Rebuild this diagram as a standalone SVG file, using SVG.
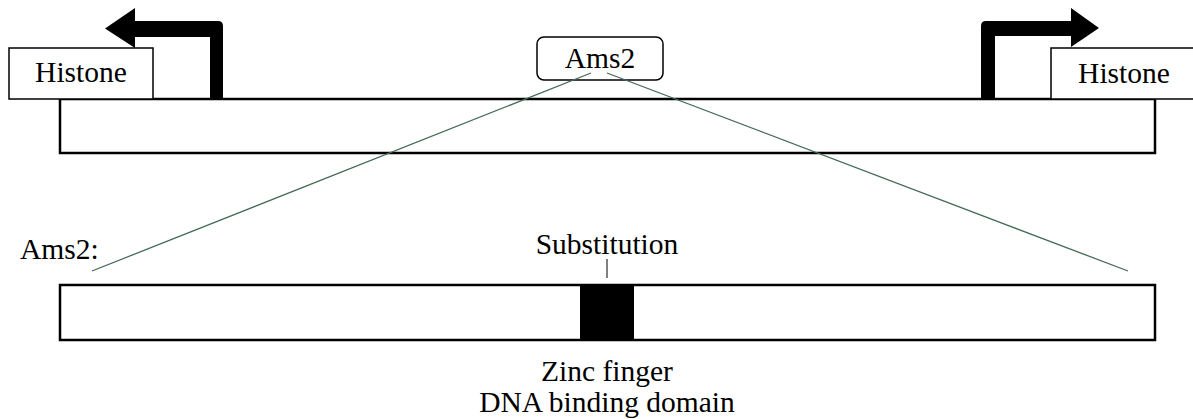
<svg xmlns="http://www.w3.org/2000/svg" width="1193" height="419" viewBox="0 0 1193 419">
  <style>
    .lbl { font-family: "Liberation Serif", "Times New Roman", serif; font-size: 29.5px; fill: #000; }
    .box { fill: #fff; stroke: #000; stroke-width: 1.5; }
    .bar { fill: #fff; stroke: #000; stroke-width: 2.5; }
    .zoom { stroke: #456a58; stroke-width: 1.3; fill: none; }
    .arrow { fill: #000; }
  </style>
  <rect width="1193" height="419" fill="#fff"/>

  <!-- chromosome region -->
  <g id="locus">
    <rect class="bar" x="60" y="99" width="1095" height="54"/>
  </g>

  <!-- divergent histone promoters -->
  <g id="histone-left">
    <rect class="box" x="9" y="48" width="144" height="51"/>
    <text class="lbl" x="81" y="82" text-anchor="middle">Histone</text>
  </g>
  <g id="arrow-left">
    <path class="arrow" d="M210 99 L210 37 L135 37 L135 48 L105 28.5 L135 8 L135 21 L218 21 Q223 21 223 26 L223 99 Z"/>
  </g>
  <g id="histone-right">
    <rect class="box" x="1051" y="48" width="146" height="51"/>
    <text class="lbl" x="1124" y="83" text-anchor="middle">Histone</text>
  </g>
  <g id="arrow-right">
    <path class="arrow" d="M995 99 L995 36 L1071 36 L1071 47 L1099 28 L1071 8 L1071 21 L986 21 Q981 21 981 26 L981 99 Z"/>
  </g>

  <!-- Ams2 gene -->
  <g id="ams2-gene">
    <rect class="box" x="537" y="37" width="126" height="43" rx="7" ry="7"/>
    <text class="lbl" x="600" y="68" text-anchor="middle">Ams2</text>
  </g>

  <!-- expanded protein -->
  <g id="ams2-label">
    <text class="lbl" x="20" y="259">Ams2:</text>
  </g>
  <g id="ams2-protein">
    <rect class="bar" x="60" y="285" width="1095" height="55"/>
    <rect x="580" y="285" width="54" height="55" fill="#000"/>
  </g>
  <g id="substitution">
    <text class="lbl" x="607" y="254" text-anchor="middle">Substitution</text>
  </g>
  <g id="zinc-finger">
    <text class="lbl" x="607" y="381" text-anchor="middle">Zinc finger</text>
    <text class="lbl" x="607" y="412" text-anchor="middle">DNA binding domain</text>
  </g>

  <g id="connectors">
    <line class="zoom" x1="591" y1="73" x2="92" y2="271"/>
    <line class="zoom" x1="607" y1="73" x2="1128" y2="271"/>
    <line x1="607" y1="259" x2="607" y2="278" stroke="#000" stroke-width="1"/>
  </g>
</svg>
